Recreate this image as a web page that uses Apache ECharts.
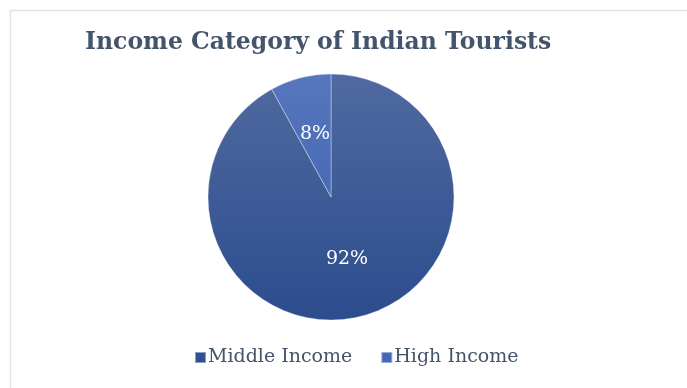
<!DOCTYPE html>
<html>
<head>
<meta charset="utf-8">
<script src="https://cdn.jsdelivr.net/npm/echarts@6/dist/echarts.min.js"></script>
<style>
  html, body { margin: 0; padding: 0; background: #ffffff; }
  #chart { width: 687px; height: 388px; }
</style>
</head>
<body>
<div id="chart"></div>
<script>
// Share of Indian tourists by income category
const categories = ['Middle Income', 'High Income'];
const shares = [92, 8];

const textColor = '#44546a';
const serif = '"DejaVu Serif", "Liberation Serif", serif';

// vertical gradient running over the full pie height (global coordinates)
function grad(top, bottom) {
  return new echarts.graphic.LinearGradient(0, 74, 0, 320, [
    { offset: 0, color: top },
    { offset: 1, color: bottom }
  ], true);
}
const fills = [grad('#506aa0', '#2c4c8d'), grad('#5676bd', '#3a5fae')];
const swatches = ['#30508f', '#4468b7'];

const chart = echarts.init(document.getElementById('chart'));
chart.setOption({
  animation: false,
  backgroundColor: '#ffffff',
  graphic: [{
    type: 'rect',
    shape: { x: 10.5, y: 10.5, width: 720, height: 420 },
    style: { fill: 'none', stroke: '#dde3ee', lineWidth: 1.5 },
    silent: true
  }],
  title: {
    text: 'Income Category of Indian Tourists',
    left: 80,
    top: 26,
    textStyle: { fontFamily: serif, fontWeight: 'bold', fontSize: 23.5, color: textColor }
  },
  legend: {
    bottom: 16,
    left: 189,
    itemGap: 28,
    itemWidth: 11,
    itemHeight: 11,
    icon: 'rect',
    textStyle: { fontFamily: serif, fontSize: 19, color: textColor, padding: [0, 0, 0, -3] },
    data: categories.map((c, i) => ({ name: c, itemStyle: { color: swatches[i] } }))
  },
  series: [{
    type: 'pie',
    center: [331, 197],
    radius: [0, 123],
    startAngle: 90,
    clockwise: true,
    label: {
      show: true,
      position: 'inside',
      formatter: '{c}%',
      fontFamily: serif,
      fontSize: 19,
      color: '#ffffff'
    },
    labelLine: { show: false },
    emphasis: { disabled: true },
    itemStyle: { borderColor: 'rgba(255,255,255,0.45)', borderWidth: 0.8 },
    data: categories.map((c, i) => ({ name: c, value: shares[i], itemStyle: { color: fills[i] } }))
  }]
});
</script>
</body>
</html>
